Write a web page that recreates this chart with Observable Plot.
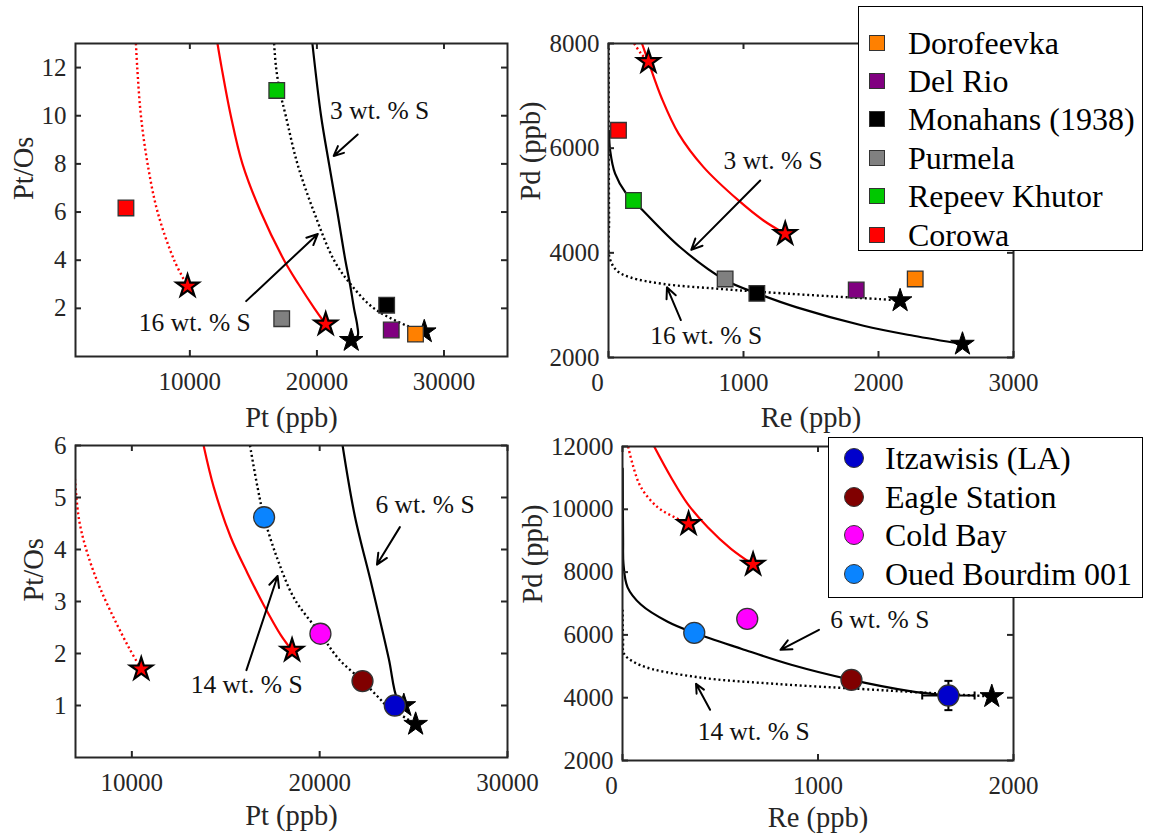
<!DOCTYPE html>
<html><head><meta charset="utf-8">
<script src="https://cdn.jsdelivr.net/npm/d3@7"></script>
<script src="https://cdn.jsdelivr.net/npm/@observablehq/plot@0.6"></script>
<style>
body{margin:0;background:#fff;width:1150px;height:835px;position:relative;overflow:hidden;font-family:"Liberation Serif","Times New Roman",serif;}
.panel{position:absolute;}
.legend{position:absolute;background:#fff;border:1.5px solid #000;box-sizing:border-box;font-family:"Liberation Serif","Times New Roman",serif;font-size:32px;color:#000;}
.row{position:absolute;left:0;right:0;height:38px;line-height:38px;white-space:nowrap;}
.mk{position:absolute;box-sizing:border-box;border:1.5px solid #333;}
.lbl{position:absolute;top:0;}
</style></head><body>
<div id="pA" class="panel" style="left:0;top:0"></div>
<div id="pB" class="panel" style="left:540px;top:0"></div>
<div id="pC" class="panel" style="left:0;top:425px"></div>
<div id="pD" class="panel" style="left:540px;top:425px"></div>
<div id="legA" class="legend" style="left:858px;top:6px;width:285px;height:245px"></div>
<div id="legB" class="legend" style="left:828px;top:437px;width:315px;height:161px"></div>
<script>
// ---------- Samples (squares, top row) ----------
const sqNames  = ["Dorofeevka","Del Rio","Monahans (1938)","Purmela","Repeev Khutor","Corowa"];
const sqColors = ["#ff8000","#800080","#000000","#808080","#00c800","#ff0000"];
const sqPt     = [27760, 25850, 25490, 17230, 16840, 4970];
const sqPtOs   = [0.93, 1.10, 2.13, 1.57, 11.05, 6.17];
const sqRe     = [2272, 1835, 1099, 864, 185, 74];
const sqPd     = [3501, 3290, 3226, 3501, 5000, 6341];

// ---------- Samples (circles, bottom row) ----------
const ciNames  = ["Itzawisis (LA)","Eagle Station","Cold Bay","Oued Bourdim 001"];
const ciColors = ["#0000cc","#800000","#ff00ff","#0a84ff"];
const ciPt     = [24000, 22280, 20040, 17040];
const ciPtOs   = [1.00, 1.47, 2.38, 4.62];
const ciRe     = [1667, 1171, 638, 367];
const ciPd     = [4070, 4569, 6512, 6066];
const itzReErr = 134;
const itzPdErr = 466;

// ---------- Model end-members (stars) ----------
const starA_Pt = [22700, 28450], starA_PtOs = [0.67, 1.03];
const redStarA_Pt = [9819, 20692], redStarA_PtOs = [2.92, 1.34];
const starB_Re = [2622, 2160], starB_Pd = [2256, 3086];
const redStarB_Re = [296, 1309], redStarB_Pd = [7650, 4363];
const starC_Pt = [25110, 24480], starC_PtOs = [0.64, 1.00];
const redStarC_Pt = [10500, 18530], redStarC_PtOs = [1.70, 2.06];
const starD_Re = [1889], starD_Pd = [4038];
const redStarD_Re = [338, 668], redStarD_Pd = [9537, 8242];

// ---------- Model curves ----------
// Panel A: Pt vs Pt/Os
const A_blk3_x  = [19644, 20325, 20954, 21609, 22238, 22605, 22919, 23181, 23208, 22700];
const A_blk3_y  = [13, 10, 8, 6, 4, 3, 2, 1.27, 0.86, 0.67];
const A_blk16_x = [16630, 16786, 17075, 17547, 18467, 19772, 21344, 22657, 24490, 27115, 28450];
const A_blk16_y = [13, 12, 11.04, 10, 8, 6, 4, 3, 2, 1.27, 1.03];
const A_red3_x  = [12175, 12500, 13223, 14140, 15582, 17415, 18560, 19800, 20692];
const A_red3_y  = [13, 12, 10, 8, 6, 4, 3, 2, 1.34];
const A_red16_x = [5755, 5860, 6148, 6675, 7461, 8766, 9819];
const A_red16_y = [13, 12, 10, 8, 6, 4, 2.92];
// Panel B: Re vs Pd
const B_red3_x  = [248, 296, 395, 519, 704, 963, 1148, 1309];
const B_red3_y  = [8000, 7650, 6950, 6278, 5638, 5001, 4618, 4363];
const B_red16_x = [190, 240, 296];
const B_red16_y = [8000, 7810, 7650];
const B_blk3_x  = [4, 12, 49, 129, 242, 531, 864, 1099, 1395, 1889, 2259, 2622];
const B_blk3_y  = [6300, 5958, 5512, 5141, 4842, 4106, 3480, 3226, 2957, 2607, 2415, 2256];
const B_blk16_x = [1, 2, 4, 7, 62, 160, 407, 778, 1148, 1642, 2012, 2160];
const B_blk16_y = [8000, 6000, 4600, 3915, 3660, 3532, 3405, 3320, 3250, 3170, 3115, 3086];
// Panel C: Pt vs Pt/Os
const C_red14_x = [6970, 7190, 7630, 8260, 9070, 9876, 10500];
const C_red14_y = [5.36, 4.57, 3.93, 3.30, 2.66, 2.09, 1.70];
const C_red6_x  = [13820, 14360, 15250, 16150, 17040, 17940, 18530];
const C_red6_y  = [6, 5.20, 4.25, 3.55, 2.92, 2.35, 2.06];
const C_blk14_x = [16290, 16690, 17040, 17760, 18660, 20040, 21000, 22280, 23200, 23500, 25110];
const C_blk14_y = [6, 5.20, 4.62, 3.81, 3.05, 2.38, 1.90, 1.47, 1.13, 1.02, 0.64];
const C_blk6_x  = [21220, 21880, 22780, 23680, 24120, 24480];
const C_blk6_y  = [6, 4.63, 3.30, 1.90, 1.14, 1.00];
// Panel D: Re vs Pd
const D_red6_x  = [162, 248, 333, 436, 555, 668];
const D_red6_y  = [12000, 11022, 10175, 9430, 8742, 8242];
const D_red14_x = [29, 51, 94, 179, 265, 338];
const D_red14_y = [12000, 11448, 10706, 10068, 9749, 9537];
const D_blk6_x  = [1, 3, 5, 26, 94, 231, 367, 607, 863, 1171, 1462, 1667];
const D_blk6_y  = [11300, 9000, 8265, 7515, 6968, 6420, 6066, 5560, 5050, 4569, 4220, 4070];
const D_blk14_x = [1, 3, 8, 94, 385, 777, 1205, 1547, 1889];
const D_blk14_y = [6800, 5800, 5398, 5029, 4653, 4443, 4283, 4160, 4038];

// ---------- Annotations ----------
const A_lab = ["3 wt. % S", "16 wt. % S"], A_lab_x = [24940, 10390], A_lab_y = [10.21, 1.41];
const A_arr_x1 = [23210, 14430], A_arr_y1 = [9.22, 2.30], A_arr_x2 = [21320, 20070], A_arr_y2 = [8.33, 5.09];
const B_lab = ["3 wt. % S", "16 wt. % S"], B_lab_x = [1220, 723], B_lab_y = [5767, 2416];
const B_arr_x1 = [1124, 536], B_arr_y1 = [5383, 2716], B_arr_x2 = [613, 433], B_arr_y2 = [4057, 3341];
const C_lab = ["6 wt. % S", "14 wt. % S"], C_lab_x = [25610, 16110], C_lab_y = [4.86, 1.39];
const C_arr_x1 = [24270, 16100], C_arr_y1 = [4.43, 1.68], C_arr_x2 = [23050, 17760], C_arr_y2 = [3.71, 3.49];
const D_lab = ["6 wt. % S", "14 wt. % S"], D_lab_x = [1316, 671], D_lab_y = [6481, 2901];
const D_arr_x1 = [1005, 448], D_arr_y1 = [6162, 3615], D_arr_x2 = [808, 376], D_arr_y2 = [5525, 4443];

// ---------- Axes ----------
const A_xticks = [10000, 20000, 30000], A_yticks = [2, 4, 6, 8, 10, 12];
const B_xticks = [0, 1000, 2000, 3000], B_yticks = [2000, 4000, 6000, 8000];
const C_xticks = [10000, 20000, 30000], C_yticks = [1, 2, 3, 4, 5, 6];
const D_xticks = [0, 1000, 2000], D_yticks = [2000, 4000, 6000, 8000, 10000, 12000];

// ---------- helpers ----------
const AX = "#262626";
const FONT = '"Liberation Serif", "Times New Roman", serif';
const pts = (xs, ys) => xs.map((x, i) => ({x, y: ys[i]}));
const solid = (xs, ys, color) => Plot.line(pts(xs, ys), {x: "x", y: "y", stroke: color, strokeWidth: 2.2, curve: "catmull-rom", clip: true});
const dotted = (xs, ys, color) => Plot.line(pts(xs, ys), {x: "x", y: "y", stroke: color, strokeWidth: 2.4, strokeDasharray: "2,2.8", strokeLinecap: "butt", curve: "catmull-rom", clip: true});
const blackStars = (xs, ys) => Plot.dot(pts(xs, ys), {x: "x", y: "y", symbol: "star", r: 7.4, fill: "#000", stroke: "#000", strokeWidth: 1});
const redStars = (xs, ys) => Plot.dot(pts(xs, ys), {x: "x", y: "y", symbol: "star", r: 7, fill: "#ff0000", stroke: "#000", strokeWidth: 2.2});
const squares = (xs, ys, colors) => Plot.dot(xs.map((x, i) => ({x, y: ys[i], c: colors[i]})), {x: "x", y: "y", symbol: "square", r: 8.8, fill: d => d.c, stroke: "#333", strokeWidth: 1.3});
const circles = (xs, ys, colors) => Plot.dot(xs.map((x, i) => ({x, y: ys[i], c: colors[i]})), {x: "x", y: "y", symbol: "circle", r: 10.5, fill: d => d.c, stroke: "#333", strokeWidth: 1.3});
const notes = (labs, lx, ly, x1, y1, x2, y2) => [
  Plot.text(labs.map((t, i) => ({t, x: lx[i], y: ly[i]})), {x: "x", y: "y", text: "t", fontSize: 25.5, fontFamily: FONT, fill: "#111", lineAnchor: "middle"}),
  Plot.arrow(x1.map((x, i) => ({x1: x, y1: y1[i], x2: x2[i], y2: y2[i]})), {x1: "x1", y1: "y1", x2: "x2", y2: "y2", stroke: "#000", strokeWidth: 2, headLength: 9, headAngle: 50})
];
const fmt = d3.format("d");

function panel({w, h, ml, mr, mt, mb, xd, yd, xt, yt, xlab, ylab, xlabDy, ylabDx, marks}) {
  const fw = w - ml - mr, fh = h - mt - mb;
  const tickTxt = {fontSize: 25, fontFamily: FONT, fill: AX, lineAnchor: "middle"};
  return Plot.plot({
    width: w, height: h, marginLeft: ml, marginRight: mr, marginTop: mt, marginBottom: mb,
    x: {domain: xd, axis: null}, y: {domain: yd, axis: null},
    style: {fontFamily: FONT, background: "transparent", overflow: "visible"},
    marks: [
      ...marks,
      Plot.frame({stroke: AX, strokeWidth: 2}),
      Plot.tickX(xt, {x: d => d, insetTop: fh - 6, stroke: AX, strokeWidth: 2}),
      Plot.tickX(xt, {x: d => d, insetBottom: fh - 6, stroke: AX, strokeWidth: 2}),
      Plot.tickY(yt, {y: d => d, insetRight: fw - 6, stroke: AX, strokeWidth: 2}),
      Plot.tickY(yt, {y: d => d, insetLeft: fw - 6, stroke: AX, strokeWidth: 2}),
      Plot.text(xt.filter(d => d !== 0), {x: d => d, frameAnchor: "bottom", dy: 25, text: fmt, ...tickTxt}),
      Plot.text(xt.filter(d => d === 0), {x: d => d, frameAnchor: "bottom", dy: 25, dx: -11, text: fmt, ...tickTxt}),
      Plot.text(yt, {y: d => d, frameAnchor: "left", dx: -9, textAnchor: "end", text: fmt, ...tickTxt}),
      Plot.text([xlab], {frameAnchor: "bottom", dy: xlabDy, text: d => d, fontSize: 28.5, fontFamily: FONT, fill: AX, lineAnchor: "middle"}),
      Plot.text([ylab], {frameAnchor: "left", dx: ylabDx, rotate: -90, text: d => d, fontSize: 28.5, fontFamily: FONT, fill: AX, lineAnchor: "middle"})
    ]
  });
}

const capH = {draw(ctx, size) { const s = Math.sqrt(size / Math.PI); ctx.moveTo(-s, 0); ctx.lineTo(s, 0); }};
const capV = {draw(ctx, size) { const s = Math.sqrt(size / Math.PI); ctx.moveTo(0, -s); ctx.lineTo(0, s); }};

document.getElementById("pA").append(panel({
  w: 540, h: 425, ml: 75, mr: 33, mt: 43, mb: 69,
  xd: [1000, 35000], yd: [0, 13], xt: A_xticks, yt: A_yticks,
  xlab: "Pt (ppb)", ylab: "Pt/Os", xlabDy: 61, ylabDx: -52,
  marks: [
    dotted(A_red16_x, A_red16_y, "#ff0000"),
    solid(A_red3_x, A_red3_y, "#ff0000"),
    dotted(A_blk16_x, A_blk16_y, "#000"),
    solid(A_blk3_x, A_blk3_y, "#000"),
    ...notes(A_lab, A_lab_x, A_lab_y, A_arr_x1, A_arr_y1, A_arr_x2, A_arr_y2),
    blackStars(starA_Pt, starA_PtOs),
    redStars(redStarA_Pt, redStarA_PtOs),
    squares(sqPt, sqPtOs, sqColors)
  ]
}));

document.getElementById("pB").append(panel({
  w: 500, h: 425, ml: 68, mr: 27, mt: 43, mb: 68,
  xd: [0, 3000], yd: [2000, 8000], xt: B_xticks, yt: B_yticks,
  xlab: "Re (ppb)", ylab: "Pd (ppb)", xlabDy: 60, ylabDx: -78,
  marks: [
    dotted(B_red16_x, B_red16_y, "#ff0000"),
    solid(B_red3_x, B_red3_y, "#ff0000"),
    dotted(B_blk16_x, B_blk16_y, "#000"),
    solid(B_blk3_x, B_blk3_y, "#000"),
    ...notes(B_lab, B_lab_x, B_lab_y, B_arr_x1, B_arr_y1, B_arr_x2, B_arr_y2),
    blackStars(starB_Re, starB_Pd),
    redStars(redStarB_Re, redStarB_Pd),
    squares(sqRe, sqPd, sqColors)
  ]
}));

document.getElementById("pC").append(panel({
  w: 540, h: 410, ml: 75, mr: 33, mt: 20, mb: 78,
  xd: [7000, 30000], yd: [0, 6], xt: C_xticks, yt: C_yticks,
  xlab: "Pt (ppb)", ylab: "Pt/Os", xlabDy: 58, ylabDx: -42,
  marks: [
    dotted(C_red14_x, C_red14_y, "#ff0000"),
    solid(C_red6_x, C_red6_y, "#ff0000"),
    dotted(C_blk14_x, C_blk14_y, "#000"),
    solid(C_blk6_x, C_blk6_y, "#000"),
    ...notes(C_lab, C_lab_x, C_lab_y, C_arr_x1, C_arr_y1, C_arr_x2, C_arr_y2),
    blackStars(starC_Pt, starC_PtOs),
    redStars(redStarC_Pt, redStarC_PtOs),
    circles(ciPt, ciPtOs, ciColors)
  ]
}));

document.getElementById("pD").append(panel({
  w: 500, h: 410, ml: 82, mr: 27, mt: 21, mb: 75,
  xd: [0, 2000], yd: [2000, 12000], xt: D_xticks, yt: D_yticks,
  xlab: "Re (ppb)", ylab: "Pd (ppb)", xlabDy: 57, ylabDx: -90,
  marks: [
    dotted(D_red14_x, D_red14_y, "#ff0000"),
    solid(D_red6_x, D_red6_y, "#ff0000"),
    dotted(D_blk14_x, D_blk14_y, "#000"),
    solid(D_blk6_x, D_blk6_y, "#000"),
    ...notes(D_lab, D_lab_x, D_lab_y, D_arr_x1, D_arr_y1, D_arr_x2, D_arr_y2),
    blackStars(starD_Re, starD_Pd),
    redStars(redStarD_Re, redStarD_Pd),
    Plot.link([{x1: ciRe[0] - itzReErr, x2: ciRe[0] + itzReErr, y: ciPd[0]}], {x1: "x1", x2: "x2", y1: "y", y2: "y", stroke: "#000", strokeWidth: 2}),
    Plot.link([{x: ciRe[0], y1: ciPd[0] - itzPdErr, y2: ciPd[0] + itzPdErr}], {x1: "x", x2: "x", y1: "y1", y2: "y2", stroke: "#000", strokeWidth: 2}),
    Plot.dot([ciRe[0] - itzReErr, ciRe[0] + itzReErr], {x: d => d, y: () => ciPd[0], symbol: capV, r: 4, stroke: "#000", strokeWidth: 2}),
    Plot.dot([ciPd[0] - itzPdErr, ciPd[0] + itzPdErr], {x: () => ciRe[0], y: d => d, symbol: capH, r: 4, stroke: "#000", strokeWidth: 2}),
    circles(ciRe, ciPd, ciColors)
  ]
}));

// ---------- Legends ----------
function legend(el, names, colors, shape, {top, step, mx, size, tx}) {
  names.forEach((n, i) => {
    const row = document.createElement("div");
    row.className = "row";
    row.style.top = (top + i * step - 19) + "px";
    const m = document.createElement("div");
    m.className = "mk";
    m.style.width = size + "px"; m.style.height = size + "px";
    m.style.left = (mx - size / 2) + "px"; m.style.top = (19 - size / 2) + "px";
    m.style.background = colors[i];
    if (shape === "circle") m.style.borderRadius = "50%";
    const t = document.createElement("span");
    t.className = "lbl"; t.style.left = tx + "px"; t.textContent = n;
    row.append(m, t);
    el.append(row);
  });
}
legend(document.getElementById("legA"), sqNames, sqColors, "square", {top: 35.5, step: 38.4, mx: 18, size: 16, tx: 49});
legend(document.getElementById("legB"), ciNames, ciColors, "circle", {top: 20, step: 38.7, mx: 24.5, size: 20, tx: 56});
</script>
</body></html>
